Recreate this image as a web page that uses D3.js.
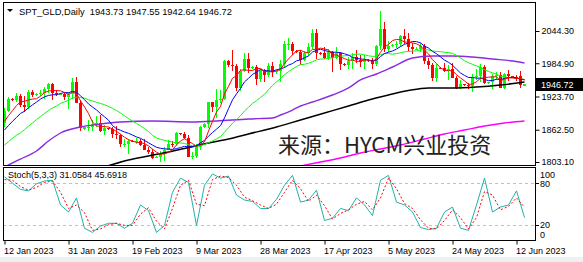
<!DOCTYPE html>
<html>
<head>
<meta charset="utf-8">
<script src="https://cdn.jsdelivr.net/npm/d3@7"></script>
<style>
body { margin: 0; background: #fff; }
svg { display: block; }
text { font-family: "Liberation Sans", Arial, sans-serif; font-size: 9px; fill: #000; white-space: pre; }
</style>
</head>
<body>
<svg id="chart" width="583" height="262"></svg>
<script>
'use strict';

// bar dates (Sunday bars included, as the broker feed has them)
var bar_dates = [
  'Jan 12','Jan 13','Jan 15','Jan 16','Jan 17','Jan 18','Jan 19','Jan 20','Jan 22','Jan 23','Jan 24','Jan 25','Jan 26','Jan 27','Jan 29','Jan 30','Jan 31',
  'Feb 1','Feb 2','Feb 3','Feb 5','Feb 6','Feb 7','Feb 8','Feb 9','Feb 10','Feb 12','Feb 13','Feb 14','Feb 15','Feb 16','Feb 17','Feb 19','Feb 20','Feb 21','Feb 22','Feb 23','Feb 24','Feb 26','Feb 27','Feb 28',
  'Mar 1','Mar 2','Mar 3','Mar 5','Mar 6','Mar 7','Mar 8','Mar 9','Mar 10','Mar 12','Mar 13','Mar 14','Mar 15','Mar 16','Mar 17','Mar 19','Mar 20','Mar 21','Mar 22','Mar 23','Mar 24','Mar 26','Mar 27','Mar 28','Mar 29','Mar 30','Mar 31',
  'Apr 2','Apr 3','Apr 4','Apr 5','Apr 6','Apr 9','Apr 10','Apr 11','Apr 12','Apr 13','Apr 14','Apr 16','Apr 17','Apr 18','Apr 19','Apr 20','Apr 21','Apr 23','Apr 24','Apr 25','Apr 26','Apr 27','Apr 28','Apr 30',
  'May 1','May 2','May 3','May 4','May 5','May 7','May 8','May 9','May 10','May 11','May 12','May 14','May 15','May 16','May 17','May 18','May 19','May 21','May 22','May 23','May 24','May 25','May 26','May 28','May 29','May 30','May 31',
  'Jun 1','Jun 2','Jun 4','Jun 5','Jun 6','Jun 7','Jun 8','Jun 9','Jun 11','Jun 12','Jun 13','Jun 14'
];

var opens = [1875,1897,1920,1918,1925,1908,1904,1932,1926,1928,1931,1938,1946,1930,1928,1929,1923,1928,1951,1912,1864,1865,1867,1873,1875,1861,1865,1864,1854,1853,1836,1836,1842,1841,1841,1835,1825,1822,1811,1813,1817,1826,1837,1836,1856,1854,1847,1813,1815,1831,1868,1873,1913,1904,1918,1919,1989,1982,1979,1940,1970,1993,1977,1978,1956,1973,1964,1980,1969,1970,1984,2020,2021,2007,2006,1990,2003,2014,2040,2004,2003,1995,2005,1994,2004,1983,1982,1989,1997,1990,1988,1990,1989,1983,2016,2048,2012,2016,2018,2021,2035,2030,2015,2011,2012,2017,1989,1982,1957,1977,1976,1971,1975,1957,1940,1946,1945,1943,1959,1962,1978,1948,1950,1961,1963,1940,1965,1961,1960,1962,1943.73];
var highs = [1902,1922,1921,1931,1928,1925,1935,1936,1930,1935,1942,1949,1949,1936,1930,1932,1932,1958,1959,1918,1868,1880,1880,1887,1890,1872,1866,1868,1870,1855,1846,1845,1843,1847,1846,1845,1831,1827,1814,1823,1830,1843,1842,1858,1857,1858,1852,1822,1836,1870,1875,1914,1914,1937,1936,1990,1990,2009,1984,1974,2003,2004,1979,1981,1974,1975,1985,1987,1972,1990,2025,2032,2024,2009,2009,2007,2022,2048,2048,2006,2015,2012,2007,2014,2006,1985,1996,2004,2009,2000,2000,1992,1994,2019,2081,2060,2026,2020,2026,2037,2048,2040,2022,2014,2022,2020,1994,1985,1984,1978,1985,1982,1985,1962,1954,1947,1949,1965,1975,1983,1982,1951,1966,1969,1968,1967,1973,1962,1964,1971,1947.55];
var lows = [1867,1895,1916,1913,1905,1896,1901,1922,1925,1925,1920,1930,1918,1924,1926,1917,1900,1920,1911,1861,1862,1860,1861,1868,1859,1852,1862,1848,1845,1830,1830,1818,1840,1836,1832,1825,1818,1809,1810,1804,1805,1825,1830,1833,1852,1845,1813,1809,1811,1826,1866,1866,1896,1885,1911,1917,1978,1970,1934,1933,1968,1967,1975,1944,1950,1950,1960,1959,1966,1950,1977,2010,2001,2004,1981,1989,1999,2011,1992,2000,1992,1990,1969,1992,1972,1979,1975,1975,1986,1978,1975,1987,1975,1979,2010,2006,2005,2014,2013,2014,2021,2008,2002,2009,2006,1984,1975,1952,1951,1974,1969,1955,1957,1937,1937,1943,1938,1932,1955,1950,1946,1946,1937,1955,1939,1938,1953,1958,1952,1940,1942.64];
var closes = [1897,1920,1918,1925,1908,1904,1932,1926,1928,1931,1938,1946,1930,1928,1929,1923,1928,1951,1912,1865,1867,1867,1873,1875,1861,1865,1864,1854,1853,1836,1836,1842,1841,1841,1835,1825,1822,1811,1813,1817,1826,1837,1836,1856,1854,1847,1813,1815,1831,1868,1873,1913,1904,1918,1919,1989,1982,1979,1940,1970,1993,1977,1978,1956,1973,1964,1980,1969,1970,1984,2020,2021,2007,2006,1990,2003,2014,2040,2004,2003,1995,2005,1994,2004,1983,1982,1989,1997,1990,1988,1990,1989,1983,2016,2048,2012,2016,2018,2021,2035,2030,2015,2011,2012,2017,1989,1982,1957,1977,1976,1971,1975,1957,1940,1946,1945,1943,1959,1962,1978,1948,1950,1961,1963,1940,1965,1961,1960,1957,1944,1946.72];

// moving averages
var ma_red = [1878,1888.4,1897.6,1907.2,1913.6,1915,1917.4,1919,1919.6,1924.2,1931,1933.8,1934.6,1934.6,1934.2,1931.2,1927.6,1931.8,1928.6,1915.8,1904.6,1892.4,1876.8,1869.4,1868.6,1868.2,1867.6,1863.8,1859.4,1854.4,1848.6,1844.2,1841.6,1839.2,1839,1836.8,1832.8,1826.8,1821.2,1817.6,1817.8,1820.8,1825.8,1834.4,1841.8,1846,1841.2,1837,1832,1834.8,1840,1860,1877.8,1895.2,1905.4,1928.6,1942.4,1957.4,1961.8,1972,1972.8,1971.8,1971.6,1974.8,1975.4,1969.6,1970.2,1968.4,1971.2,1973.4,1984.6,1992.8,2000.4,2007.6,2008.8,2005.4,2004,2010.6,2010.2,2012.8,2011.2,2009.4,2000.2,2000.2,1996.2,1993.6,1990.4,1991,1988.2,1989.2,1990.8,1990.8,1988,1993.2,2005.2,2014.8,2019.6,2026.8,2028.8,2028,2024,2023.8,2022.4,2020.6,2017,2008.8,2002.2,1991.4,1984.4,1976.2,1972.6,1971.2,1971.2,1963.8,1957.8,1952.6,1946.2,1946.6,1951,1957.4,1958,1959.4,1959.8,1960,1952.4,1955.8,1958,1957.8,1956.6,1957.4,1953.8];
var ma_blue = [1862.1,1870.3,1878.1,1885.1,1892.6,1896.5,1902.9,1908.3,1913.4,1918.9,1923,1925.6,1926.8,1927.1,1929.2,1931.1,1930.7,1933.2,1931.6,1925,1917.9,1910,1904.3,1899,1892.2,1886.4,1880,1870.3,1864.4,1861.5,1858.4,1855.9,1852.7,1849.3,1846.7,1842.7,1838.5,1834.2,1830.2,1828.3,1827.3,1826.8,1826.3,1827.8,1829.7,1831.9,1831,1831.4,1833.2,1838.3,1843,1850.6,1857.4,1863.6,1870.1,1884.3,1901.2,1917.6,1928.5,1938.7,1950.7,1957.1,1964.5,1968.3,1973.7,1971.2,1971,1970,1973,1974.4,1977.1,1981.5,1984.4,1989.4,1991.1,1995,1998.4,2005.5,2008.9,2010.8,2008.3,2006.7,2005.4,2005.2,2004.5,2002.4,1999.9,1995.6,1994.2,1992.7,1992.2,1990.6,1989.5,1990.7,1997.2,2002.8,2005.3,2007.4,2011,2015.7,2019.7,2022.3,2025.1,2024.7,2022.5,2016.4,2013,2006.9,2002.5,1996.6,1990.7,1986.7,1981.3,1974.1,1967,1962.6,1958.7,1958.9,1957.4,1957.6,1955.3,1952.8,1953.2,1955.5,1954.9,1956.9,1958.7,1958.8,1958.3,1954.9,1954.8];
var ma_green = [1834.1,1840.4,1846.9,1852.3,1857,1862.6,1869.3,1874.9,1881.1,1886.9,1892.6,1898,1902.5,1906.1,1910.9,1913.8,1916.8,1920.8,1922.5,1922,1920.5,1917.8,1915.6,1913.1,1910.7,1908.8,1905.4,1901.8,1898,1893.3,1888.2,1883,1878.5,1874.2,1869.5,1864.6,1859.3,1852.3,1847.3,1844.9,1842.9,1841.4,1839.5,1838.6,1838.2,1837.3,1834.8,1832.8,1831.7,1833.3,1835.2,1838.7,1841.9,1845.7,1849.9,1858.1,1866.1,1874.5,1880.9,1888.5,1896.9,1903.9,1911,1916,1921.9,1927.8,1936.1,1943.8,1950.8,1956.6,1963.9,1969.3,1974.5,1978.9,1982.4,1983.1,1984.7,1987.8,1991,1992.6,1992.7,1994.1,1994.9,1997.3,1997.8,1998.7,1999.2,2000.6,2001.6,2001.8,2000.3,1998.7,1997.5,1998,2000.8,2002.6,2002.7,2001.6,2002.6,2004.2,2006,2006.5,2007.3,2007.7,2009.4,2009.8,2009.4,2007.4,2006.8,2006.2,2005.2,2004.5,2003.2,1999.4,1994.8,1989.5,1985.9,1982.9,1980,1977.1,1973,1969.8,1967.3,1964.8,1961,1959.8,1958.7,1958.9,1957.9,1956.2,1955];

// slower averages, sampled at these bars
var purple_bars = [0,1,4,8,11,14,19,24,29,37,47,53,61,67,69,72,74,77,82,86,89,93,97,102,107,112,117,122,127,130];
var purple_vals = [1794,1797.6,1808.6,1823.4,1841.8,1856.5,1867.5,1873.1,1876.8,1878.6,1876.8,1878.6,1882.3,1884.1,1889.6,1898.8,1906.2,1913.6,1926.5,1939.4,1954.1,1965.1,1978,1994.6,1998.3,1998.3,1996.4,1992.7,1989.1,1985.4];
var black_bars = [25,27,31,36,41,46,51,56,61,68,74,80,86,91,96,101,106,112,118,124,130];
var black_vals = [1793.9,1798.5,1806.8,1814.2,1821.5,1829.8,1838.1,1845.5,1854.7,1867.5,1880.4,1893.3,1906.2,1917.3,1926.5,1934.7,1939.4,1939.4,1941.2,1944.9,1950.4];
var magenta_bars = [74,79,84,89,94,99,105,110,115,120,125,130];
var magenta_vals = [1795.7,1803.1,1810.5,1819.7,1827,1834.4,1845.5,1854.7,1862,1869.4,1874.9,1878.6];

// stochastic (5,3,3), every second bar
var stoch_bars = [0,2,4,6,8,10,12,14,16,18,20,22,24,26,28,30,32,34,36,38,40,42,44,46,48,50,52,54,56,58,60,62,64,66,68,70,72,74,76,78,80,82,84,86,88,90,92,94,96,98,100,102,104,106,108,110,112,114,116,118,120,122,124,126,128,130];
var stoch_main = [89,80,71,69,79,83,84,49,39,59,16,10,19,23,23,16,23,49,41,10,20,67,87,81,20,77,93,87,90,63,56,54,44,44,57,77,91,53,56,70,27,30,44,41,59,49,34,84,91,53,49,39,17,14,16,39,46,16,13,49,87,39,46,49,69,31.0584];
var stoch_signal = [85,84,75,70,74,81,83,67,44,49,38,13,15,21,23,20,20,36,45,26,15,44,77,84,50,48,85,90,88,77,60,55,49,44,50,67,84,72,54,63,48,29,37,42,50,54,42,59,87,72,51,44,28,16,15,27,42,31,15,31,68,63,42,47,59,45.6918];
var stoch_levels = [20, 80];
var stoch_labels = [100, 80, 20, 0];

var price_ticks = [2044.30, 1984.90, 1923.70, 1862.50, 1803.10];
var date_tick_bars = [0, 16, 32, 48, 64, 80, 96, 112, 128];
var date_tick_labels = ['12 Jan 2023','31 Jan 2023','19 Feb 2023','9 Mar 2023','28 Mar 2023','17 Apr 2023','5 May 2023','24 May 2023','12 Jun 2023'];

var symbol = 'SPT_GLD,Daily';
var stoch_name = 'Stoch(5,3,3)';
var watermark = '来源：HYCM兴业投资';

var left = 3, right = 535, main_top = 2.5, main_bottom = 165.5, sub_top = 167.5, sub_bottom = 240.5;

var svg = d3.select('#chart');

var x = d3.scalePoint().domain(bar_dates).range([4, 524]);
var y = d3.scaleLinear().domain([1803.1, 2044.3]).range([162, 31]);
var ys = d3.scaleLinear().domain([0, 100]).range([239.5, 169]);

function bx(i) { return x(bar_dates[i]); }

svg.append('rect').attr('x', 0).attr('y', 257).attr('width', 583).attr('height', 5).attr('fill', '#f0f0f0');

var defs = svg.append('defs');
defs.append('clipPath').attr('id', 'clip-main').append('rect')
  .attr('x', left + 0.5).attr('y', main_top + 0.5).attr('width', right - left - 1).attr('height', main_bottom - main_top - 1);
defs.append('clipPath').attr('id', 'clip-sub').append('rect')
  .attr('x', left + 0.5).attr('y', sub_top + 0.5).attr('width', right - left - 1).attr('height', sub_bottom - sub_top - 1);

var main = svg.append('g').attr('clip-path', 'url(#clip-main)');

// candles
var candles = main.selectAll('.candle').data(d3.range(bar_dates.length)).enter().append('g')
  .attr('class', 'candle').attr('shape-rendering', 'crispEdges')
  .attr('fill', function (i) { return closes[i] >= opens[i] ? '#00ff00' : '#ff0000'; });
candles.append('rect')
  .attr('x', function (i) { return bx(i); })
  .attr('width', 1)
  .attr('y', function (i) { return Math.round(y(highs[i])); })
  .attr('height', function (i) { return Math.max(1, Math.round(y(lows[i])) - Math.round(y(highs[i]))); });
candles.append('rect')
  .attr('x', function (i) { return bx(i) - 1; })
  .attr('width', 3)
  .attr('y', function (i) { return Math.round(y(Math.max(opens[i], closes[i]))); })
  .attr('height', function (i) { return Math.max(1, Math.round(y(Math.min(opens[i], closes[i]))) - Math.round(y(Math.max(opens[i], closes[i])))); });

// moving averages
var full_line = d3.line().x(function (d, i) { return bx(i) + 0.5; }).y(function (d) { return y(d); });
var sampled_line = d3.line().x(function (d) { return bx(d[0]) + 0.5; }).y(function (d) { return y(d[1]); }).curve(d3.curveMonotoneX);

main.append('path').datum(magenta_bars.map(function (b, k) { return [b, magenta_vals[k]]; }))
  .attr('d', sampled_line).attr('fill', 'none').attr('stroke', '#ff00ff').attr('stroke-width', 1.4);
main.append('path').datum(black_bars.map(function (b, k) { return [b, black_vals[k]]; }))
  .attr('d', sampled_line).attr('fill', 'none').attr('stroke', '#000').attr('stroke-width', 1.5);
main.append('path').datum(purple_bars.map(function (b, k) { return [b, purple_vals[k]]; }))
  .attr('d', sampled_line).attr('fill', 'none').attr('stroke', '#8a2be2').attr('stroke-width', 1.4);
main.append('path').datum(ma_green).attr('d', full_line).attr('fill', 'none').attr('stroke', '#00ff00').attr('stroke-width', 1);
main.append('path').datum(ma_blue).attr('d', full_line).attr('fill', 'none').attr('stroke', '#0000ff').attr('stroke-width', 1);
main.append('path').datum(ma_red).attr('d', full_line).attr('fill', 'none').attr('stroke', '#ff0000').attr('stroke-width', 1);

// watermark
svg.append('text').attr('x', 278).attr('y', 153)
  .style('font-family', '"Noto Sans CJK SC", sans-serif').style('font-size', '22px').style('fill', '#222')
  .text(watermark);

// stochastic panel
var sub = svg.append('g').attr('clip-path', 'url(#clip-sub)');
sub.selectAll('.level').data(stoch_levels).enter().append('line')
  .attr('x1', left).attr('x2', right)
  .attr('y1', function (d) { return Math.round(ys(d)) + 0.5; }).attr('y2', function (d) { return Math.round(ys(d)) + 0.5; })
  .attr('stroke', '#c0c0c0').attr('stroke-dasharray', '3,3');
var stoch_line = d3.line().x(function (d) { return bx(d[0]) + 0.5; }).y(function (d) { return ys(d[1]); });
sub.append('path').datum(stoch_bars.map(function (b, k) { return [b, stoch_main[k]]; }))
  .attr('d', stoch_line).attr('fill', 'none').attr('stroke', '#20b2aa').attr('stroke-width', 1);
sub.append('path').datum(stoch_bars.map(function (b, k) { return [b, stoch_signal[k]]; }))
  .attr('d', stoch_line).attr('fill', 'none').attr('stroke', '#ff0000').attr('stroke-width', 1).attr('stroke-dasharray', '2,2');

// frames
var frame = svg.append('g').attr('fill', 'none').attr('stroke', '#000').attr('shape-rendering', 'crispEdges');
frame.append('rect').attr('x', left + 0.5).attr('y', main_top).attr('width', right - left).attr('height', main_bottom - main_top);
frame.append('rect').attr('x', left + 0.5).attr('y', sub_top).attr('width', right - left).attr('height', sub_bottom - sub_top);

// price axis
var price_axis = d3.axisRight(y).tickValues(price_ticks).tickFormat(d3.format('.2f')).tickSize(4).tickPadding(2);
var pa = svg.append('g').attr('transform', 'translate(' + (right + 0.5) + ',0)').call(price_axis);
pa.select('.domain').remove();
pa.selectAll('text').style('font-size', '9px').style('font-family', '"Liberation Sans", Arial, sans-serif');

// last price label
var last_y = Math.round(y(closes[closes.length - 1]));
svg.append('rect').attr('x', 536).attr('y', last_y - 6).attr('width', 47).attr('height', 13).attr('fill', '#000');
svg.append('text').attr('x', 541).attr('y', last_y + 3.5).style('fill', '#fff')
  .text(d3.format('.2f')(closes[closes.length - 1]));

// stoch labels
var stoch_label_y = { 100: 177.5, 80: 186.5, 20: 227.8, 0: 237.5 };
svg.selectAll('.slabel').data(stoch_labels).enter().append('text')
  .attr('x', 540).attr('y', function (d) { return stoch_label_y[d]; }).text(function (d) { return d; });
svg.selectAll('.stick').data(stoch_levels).enter().append('line')
  .attr('x1', right).attr('x2', right + 4)
  .attr('y1', function (d) { return Math.round(ys(d)) + 0.5; }).attr('y2', function (d) { return Math.round(ys(d)) + 0.5; })
  .attr('stroke', '#000');

// date axis
var date_axis = d3.axisBottom(x).tickValues(date_tick_bars.map(function (b) { return bar_dates[b]; }))
  .tickFormat(function (d, k) { return date_tick_labels[k]; }).tickSize(4).tickPadding(3);
var da = svg.append('g').attr('transform', 'translate(0.5,' + sub_bottom + ')').call(date_axis);
da.select('.domain').remove();
da.selectAll('text').attr('text-anchor', 'start').attr('x', -1)
  .style('font-size', '9px').style('font-family', '"Liberation Sans", Arial, sans-serif');

// header
svg.append('path').attr('d', 'M7,9 L13,9 L10,12 Z').attr('fill', '#000');
svg.append('text').attr('x', 19).attr('y', 15).style('font-size', '9.3px')
  .text(symbol + '  ' + [opens, highs, lows, closes].map(function (a) { return d3.format('.2f')(a[a.length - 1]); }).join(' '));
svg.append('text').attr('x', 8).attr('y', 178)
  .text(stoch_name + ' ' + d3.format('.4f')(stoch_main[stoch_main.length - 1]) + ' ' + d3.format('.4f')(stoch_signal[stoch_signal.length - 1]));
</script>
</body>
</html>
